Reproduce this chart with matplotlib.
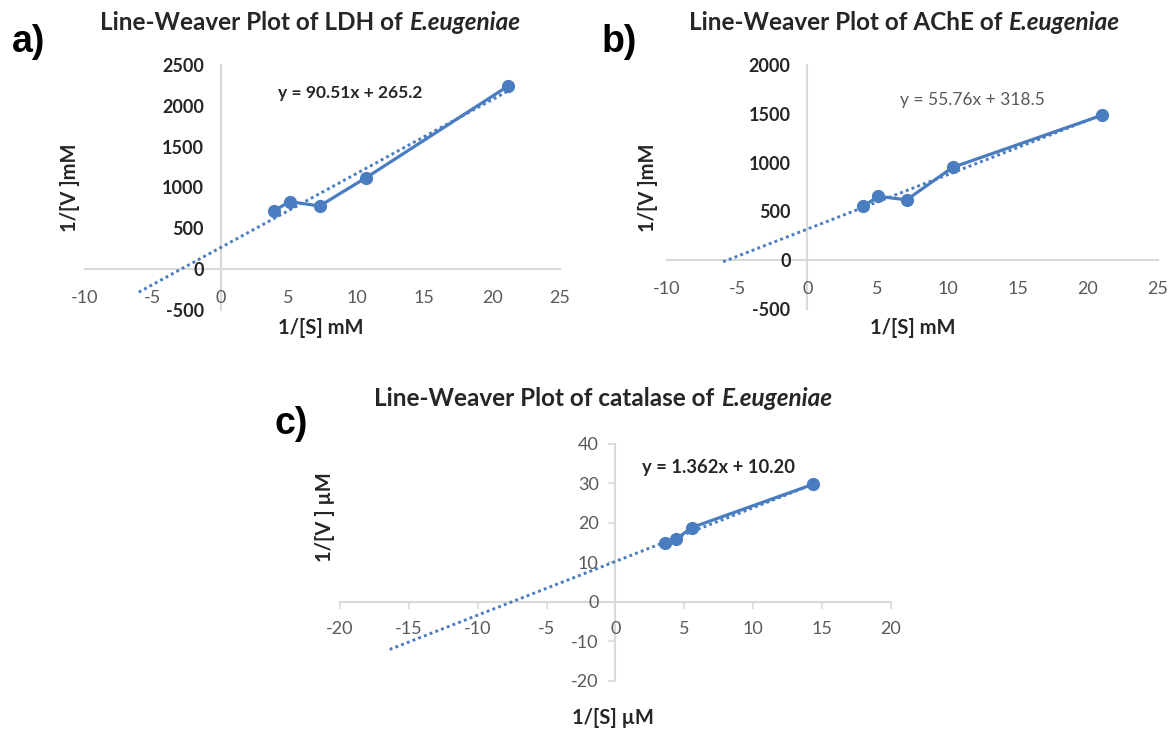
import matplotlib
matplotlib.use("Agg")
import matplotlib.pyplot as plt
import numpy as np

# ---------------- data ----------------
ldh_x = [3.96, 5.07, 7.29, 10.72, 21.2]
ldh_y = [717, 827, 774, 1121, 2245]
ldh_slope, ldh_icpt = 90.51, 265.2
ldh_back = 10

ache_x = [4.0, 5.07, 7.08, 10.36, 21.0]
ache_y = [553, 655, 618, 951, 1485]
ache_slope, ache_icpt = 55.76, 318.5
ache_back = 10

cat_x = [3.61, 4.38, 5.55, 14.38]
cat_y = [14.8, 15.8, 18.8, 29.8]
cat_slope, cat_icpt = 1.362, 10.20
cat_back = 20

ldh_xticks = [-10, -5, 0, 5, 10, 15, 20, 25]
ldh_yticks = [-500, 0, 500, 1000, 1500, 2000, 2500]
ache_xticks = [-10, -5, 0, 5, 10, 15, 20, 25]
ache_yticks = [-500, 0, 500, 1000, 1500, 2000]
cat_xticks = [-20, -15, -10, -5, 0, 5, 10, 15, 20]
cat_yticks = [-20, -10, 0, 10, 20, 30, 40]

# ---------------- style ----------------
W, H = 1174, 737
FONT = "Lato"
BLUE = "#4A7CC0"
AXC = "#D9D9D9"
GRAY = "#595959"
DARK = "#262626"
TICK_FS = 13

fig = plt.figure(figsize=(W / 100, H / 100), dpi=100)
fig.patch.set_facecolor("white")


def px(x, y):
    return x / W, 1 - y / H


def add_ax(left, right, top, bottom):
    return fig.add_axes([left / W, 1 - bottom / H, (right - left) / W, (bottom - top) / H])


def style_ax(ax, xlim, ylim, xticks, yticks, ybold, ticks_out):
    ax.set_xlim(*xlim)
    ax.set_ylim(*ylim)
    ax.set_facecolor("none")
    for s in ("top", "right"):
        ax.spines[s].set_visible(False)
    for s in ("left", "bottom"):
        ax.spines[s].set_position(("data", 0))
        ax.spines[s].set_color(AXC)
        ax.spines[s].set_linewidth(1.5)
        ax.spines[s].set_zorder(0)
    ax.set_xticks(xticks)
    ax.set_yticks(yticks)
    ax.set_xticklabels([str(t) for t in xticks])
    ax.set_yticklabels([str(t) for t in yticks])
    if ticks_out:
        ax.tick_params(axis="both", direction="out", length=5, width=1.2, color=AXC)
        ax.tick_params(axis="x", pad=9)
        ax.tick_params(axis="y", pad=7)
    else:
        ax.tick_params(axis="both", length=0)
        ax.tick_params(axis="x", pad=15)
        ax.tick_params(axis="y", pad=12)
    for lab in ax.get_xticklabels():
        lab.set_fontfamily(FONT)
        lab.set_fontsize(TICK_FS)
        lab.set_color(GRAY)
    for lab in ax.get_yticklabels():
        lab.set_fontfamily(FONT)
        lab.set_fontsize(TICK_FS)
        if ybold:
            lab.set_color(DARK)
            lab.set_fontweight("bold")
        else:
            lab.set_color(GRAY)


def plot_series(ax, xs, ys, slope, icpt, back):
    x0 = min(xs) - back
    x1 = max(xs)
    tx = np.array([x0, x1])
    ax.plot(tx, slope * tx + icpt, linestyle=(0, (1, 1.1)), color=BLUE, lw=2.1, zorder=2,
            dash_capstyle="butt")
    ax.plot(xs, ys, "-o", color=BLUE, lw=2.3, markersize=8.5, zorder=3)


def mixed_text(cx, cy, parts, size, color=DARK):
    """parts: list of (text, style) ; centred at pixel (cx, cy)."""
    fig.canvas.draw()
    r = fig.canvas.get_renderer()
    objs = []
    widths = []
    for txt, st in parts:
        t = fig.text(0, 0, txt, fontfamily=FONT, fontsize=size, fontweight="bold",
                     fontstyle=st, color=color, ha="left", va="center")
        objs.append(t)
        widths.append(t.get_window_extent(renderer=r).width)
    total = sum(widths)
    x = cx - total / 2
    for t, w in zip(objs, widths):
        t.set_position(px(x, cy))
        x += w


# ---------------- panel a ----------------
axa = add_ax(85, 560, 65, 310)
style_ax(axa, (-10, 25), (-500, 2500), ldh_xticks, ldh_yticks, True, False)
plot_series(axa, ldh_x, ldh_y, ldh_slope, ldh_icpt, ldh_back)

# ---------------- panel b ----------------
axb = add_ax(667, 1158, 65, 309)
style_ax(axb, (-10, 25), (-500, 2000), ache_xticks, ache_yticks, True, False)
plot_series(axb, ache_x, ache_y, ache_slope, ache_icpt, ache_back)

# ---------------- panel c ----------------
axc = add_ax(340, 890.7, 444, 680.5)
style_ax(axc, (-20, 20), (-20, 40), cat_xticks, cat_yticks, False, True)
plot_series(axc, cat_x, cat_y, cat_slope, cat_icpt, cat_back)

# ---------------- texts ----------------
# panel letters
for lx, ly, lt in [(12, 42, "a)"), (602, 42, "b)"), (275, 424, "c)")]:
    fig.text(*px(lx, ly), lt, fontfamily="Liberation Sans", fontweight="bold",
             fontsize=27, color="black", ha="left", va="center")

# titles
mixed_text(310, 23, [("Line-Weaver Plot of LDH of ", "normal"), ("E.eugeniae", "italic")], 17.5)
mixed_text(904, 23, [("Line-Weaver Plot of AChE of ", "normal"), ("E.eugeniae", "italic")], 17.5)
mixed_text(603, 398, [("Line-Weaver Plot of catalase of ", "normal"), ("E.eugeniae", "italic")], 17.5)

# axis labels
lab_kw = dict(fontfamily=FONT, fontweight="bold", fontsize=14.5, color=DARK,
              ha="center", va="center")
fig.text(*px(321, 328), "1/[S] mM", **lab_kw)
fig.text(*px(70, 188), "1/[V ]mM", rotation=90, **lab_kw)
fig.text(*px(913, 328), "1/[S] mM", **lab_kw)
fig.text(*px(648, 188), "1/[V ]mM", rotation=90, **lab_kw)
fig.text(*px(613, 718), "1/[S] µM", **lab_kw)
fig.text(*px(325, 517), "1/[V ] µM", rotation=90, **lab_kw)

# equations
fig.text(*px(350, 93), f"y = {ldh_slope:.2f}x + {ldh_icpt:.1f}", fontfamily=FONT,
         fontweight="bold", fontsize=12.5, color=DARK, ha="center", va="center")
fig.text(*px(972, 100), f"y = {ache_slope:.2f}x + {ache_icpt:.1f}", fontfamily=FONT,
         fontsize=12.5, color=GRAY, ha="center", va="center")
fig.text(*px(719, 467), f"y = {cat_slope:.3f}x + {cat_icpt:.2f}", fontfamily=FONT,
         fontweight="bold", fontsize=13.2, color=DARK, ha="center", va="center")

fig.savefig("out.png", dpi=100, facecolor="white")
